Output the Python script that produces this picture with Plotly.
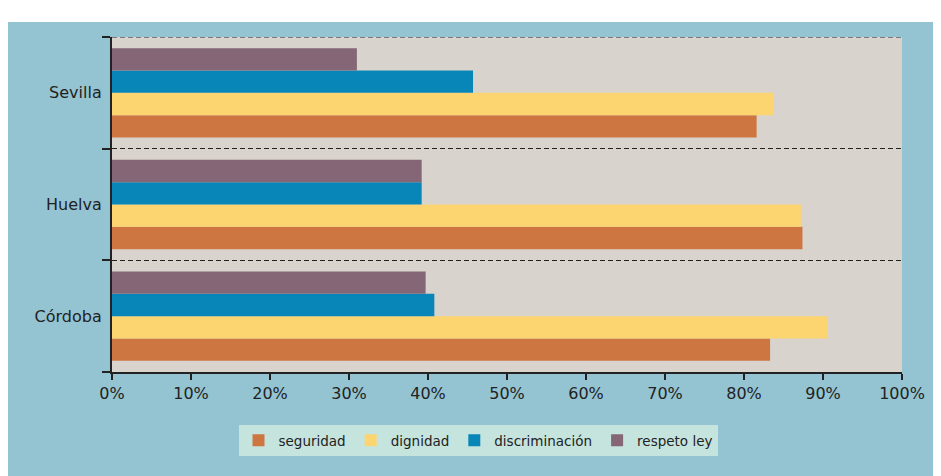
import plotly.graph_objects as go

# Data (categories listed bottom-to-top as Plotly draws them)
cities = ["Córdoba", "Huelva", "Sevilla"]
series_names = ["seguridad", "dignidad", "discriminación", "respeto ley"]
seguridad = [0.833, 0.874, 0.816]
dignidad = [0.905, 0.872, 0.838]
discriminacion = [0.408, 0.392, 0.457]
respeto_ley = [0.397, 0.392, 0.310]
x_ticks = [0, 0.1, 0.2, 0.3, 0.4, 0.5, 0.6, 0.7, 0.8, 0.9, 1.0]

colors = ["#CE7641", "#FCD570", "#0986B8", "#846677"]
values = [seguridad, dignidad, discriminacion, respeto_ley]

fig = go.Figure()
for name, vals, col in zip(series_names, values, colors):
    fig.add_trace(go.Bar(y=cities, x=vals, name=name, orientation="h",
                         marker=dict(color=col, line=dict(width=0))))

OFF = 8  # page body margin
W, H = 941 - OFF, 476 - OFF
ml, mr, mt, mb = 112 - OFF, 941 - 902, 37 - OFF, 476 - 372
pw, ph = W - ml - mr, H - mt - mb

def px_x(p):  # p in screenshot pixels
    return (p - OFF - ml) / pw

def px_y(p):
    return (H - mb - (p - OFF)) / ph

shapes = [
    # white strip at top
    dict(type="rect", xref="paper", yref="paper", x0=px_x(0), x1=px_x(960),
         y0=px_y(22), y1=px_y(0), fillcolor="white", line=dict(width=0), layer="below"),
    # top dashed boundary line
    dict(type="line", xref="paper", yref="y", x0=0, x1=1, y0=2.5, y1=2.5,
         line=dict(color="#222222", width=1, dash="5px,3px"), layer="above"),
]

fig.update_layout(
    width=W, height=H,
    margin=dict(l=ml, r=mr, t=mt, b=mb),
    paper_bgcolor="#94C4D2",
    plot_bgcolor="#D8D3CC",
    barmode="group",
    bargap=0.2,
    bargroupgap=0,
    font=dict(family="DejaVu Sans", size=16, color="#222222"),
    shapes=shapes,
    showlegend=True,
    legend=dict(orientation="h", x=px_x(478), y=px_y(425), xanchor="center", yanchor="top",
                bgcolor="#C5E4DE", borderwidth=0, font=dict(size=13.5, color="#222222"),
                traceorder="normal", itemsizing="constant"),
    xaxis=dict(range=[0, 1], tickvals=x_ticks, tickformat=".0%", showgrid=False,
               zeroline=False, showline=True, linecolor="#222222", linewidth=2,
               ticks="outside", ticklen=6, tickwidth=2, tickcolor="#222222",
               tickfont=dict(size=16), fixedrange=True),
    yaxis=dict(showline=True, linecolor="#222222", linewidth=2, tickson="boundaries",
               ticks="outside", ticklen=8, tickwidth=2, tickcolor="#222222",
               showgrid=True, gridcolor="#222222", gridwidth=1, griddash="5px,3px",
               ticksuffix=" ", tickfont=dict(size=16), range=[-0.5, 2.5], fixedrange=True),
)

fig.write_html("out.html")
